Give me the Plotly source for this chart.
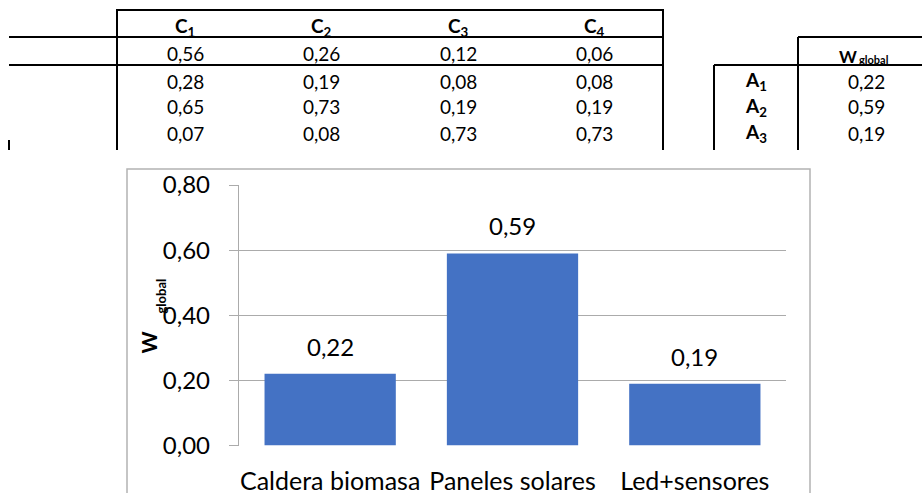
import plotly.graph_objects as go

# ---- data -------------------------------------------------------------
criteria = ["C<sub>1</sub>", "C<sub>2</sub>", "C<sub>3</sub>", "C<sub>4</sub>"]
criteria_weights = [0.56, 0.26, 0.12, 0.06]
scores_a1 = [0.28, 0.19, 0.08, 0.08]
scores_a2 = [0.65, 0.73, 0.19, 0.19]
scores_a3 = [0.07, 0.08, 0.73, 0.73]
alt_codes = ["A<sub>1</sub>", "A<sub>2</sub>", "A<sub>3</sub>"]
alternatives = ["Caldera biomasa", "Paneles solares", "Led+sensores"]
w_global = [0.22, 0.59, 0.19]
y_ticks = [0.0, 0.2, 0.4, 0.6, 0.8]

# ---- canvas geometry (pixels -> paper fractions) ---------------------
W, H = 922, 493


def px(x):
    return x / W


def py(y):
    return 1 - y / H


FONT = "Lato"
BLUE = "#4472C4"
GRID = "#ababab"
FRAME = "#b3b3b3"


def fmt(v):
    return f"{v:.2f}".replace(".", ",")


fig = go.Figure()

fig.add_trace(go.Bar(
    x=alternatives, y=w_global,
    marker=dict(color=BLUE, line=dict(width=0)),
    hoverinfo="skip",
))

shapes = []
annotations = []


def hline(x0, x1, y, color="black", w=2):
    shapes.append(dict(type="line", xref="paper", yref="paper",
                       x0=px(x0), x1=px(x1), y0=py(y), y1=py(y),
                       line=dict(color=color, width=w)))


def vline(x, y0, y1, color="black", w=2):
    shapes.append(dict(type="line", xref="paper", yref="paper",
                       x0=px(x), x1=px(x), y0=py(y0), y1=py(y1),
                       line=dict(color=color, width=w)))


def label(x, y, text, size=19, bold=False, angle=0):
    annotations.append(dict(xref="paper", yref="paper", x=px(x), y=py(y),
                            text=f"<b>{text}</b>" if bold else text,
                            textangle=angle,
                            showarrow=False, xanchor="center", yanchor="middle",
                            font=dict(family=FONT, size=size, color="black")))


# ---- criteria matrix -------------------------------------------------
hline(117, 663, 10)
hline(9, 663, 37)
hline(9, 663, 65)
vline(117, 9, 150)
vline(663, 9, 150)
vline(9, 140, 150)

col_x = [185, 321.5, 458, 594.5]
row_y = [81, 107, 133]
for cx, name in zip(col_x, criteria):
    label(cx, 27, name, bold=True)
for cx, v in zip(col_x, criteria_weights):
    label(cx, 53, fmt(v))
for ry, row in zip(row_y, [scores_a1, scores_a2, scores_a3]):
    for cx, v in zip(col_x, row):
        label(cx, ry, fmt(v))

# ---- global weight table ---------------------------------------------
hline(798, 922, 37)
hline(714, 922, 65)
vline(798, 37, 150)
vline(714, 65, 150)
label(848, 56, "W", size=17, bold=True)
label(874, 60, "global", size=11, bold=True)
for ry, code, v in zip(row_y, alt_codes, w_global):
    label(756, ry, code, bold=True)
    label(866, ry, fmt(v))

# ---- chart frame -----------------------------------------------------
shapes.append(dict(type="rect", xref="paper", yref="paper",
                   x0=px(127), x1=px(810), y0=py(520), y1=py(169),
                   line=dict(color=FRAME, width=1.5), fillcolor="rgba(0,0,0,0)",
                   layer="below"))

# ---- bar value labels ------------------------------------------------
for name, v in zip(alternatives, w_global):
    annotations.append(dict(xref="x", yref="y", x=name, y=v,
                            text=fmt(v), showarrow=False,
                            xanchor="center", yanchor="bottom", yshift=11,
                            font=dict(family=FONT, size=24, color="black")))

# ---- y-axis title (rotated W with subscript) -------------------------
label(147.5, 343, "W", size=21, bold=True, angle=-90)
label(160.5, 296, "global", size=13, bold=True, angle=-90)

fig.update_layout(
    width=W, height=H,
    margin=dict(l=0, r=0, t=0, b=0, autoexpand=False),
    paper_bgcolor="white", plot_bgcolor="white",
    separators=",.",
    showlegend=False,
    bargap=0.28,
    shapes=shapes,
    annotations=annotations,
    xaxis=dict(
        domain=[px(239), px(786)],
        automargin=False,
        showgrid=False, showline=False, zeroline=False,
        ticks="", ticklabelstandoff=18,
        tickfont=dict(family=FONT, size=25, color="black"),
    ),
    yaxis=dict(
        domain=[py(445.5), py(185)],
        automargin=False,
        range=[0, 0.8],
        tickvals=y_ticks, tickformat=".2f",
        showgrid=True, gridcolor=GRID, gridwidth=1.3,
        zeroline=False,
        showline=True, linecolor=GRID, linewidth=1.3,
        ticks="outside", ticklen=9, tickcolor=GRID, tickwidth=1.3,
        ticklabelstandoff=14,
        tickfont=dict(family=FONT, size=24, color="black"),
    ),
)

fig.write_html("out.html")
